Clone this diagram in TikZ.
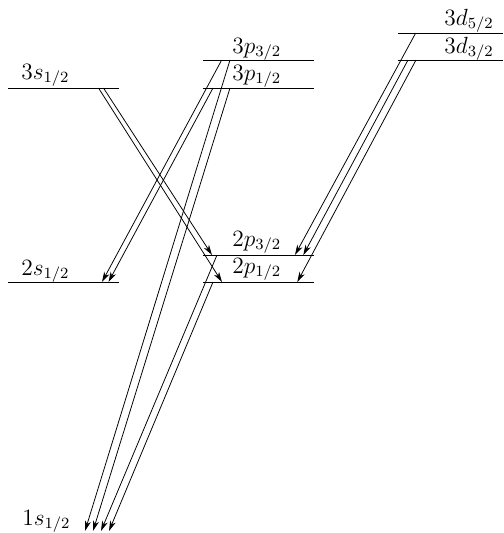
\documentclass[tikz,border=0pt]{standalone}
\usetikzlibrary{arrows.meta}
\begin{document}
\begin{tikzpicture}[x=0.5126pt,y=-0.5126pt,
  levelline/.style={line width=0.5pt},
  trans/.style={line width=0.4pt,-{Stealth[length=5.2pt,width=3pt,inset=1.5pt]}},
  lab/.style={anchor=base west,inner sep=0pt,font=\large}]
\useasboundingbox (0,0) rectangle (503,533);
% level end points
\coordinate (s3L) at (8,88);   \coordinate (s3R) at (119,88);
\coordinate (pa3L) at (203,60); \coordinate (pa3R) at (314,60);
\coordinate (pb3L) at (203,88); \coordinate (pb3R) at (314,88);
\coordinate (da3L) at (398,33); \coordinate (da3R) at (503,33);
\coordinate (db3L) at (398,60); \coordinate (db3R) at (503,60);
\coordinate (s2L) at (8,282);  \coordinate (s2R) at (119,282);
\coordinate (pa2L) at (203,255); \coordinate (pa2R) at (314,255);
\coordinate (pb2L) at (203,282); \coordinate (pb2R) at (314,282);
\foreach \a/\b in {s3L/s3R,pa3L/pa3R,pb3L/pb3R,da3L/da3R,db3L/db3R,s2L/s2R,pa2L/pa2R,pb2L/pb2R}
  \draw[levelline] (\a) -- (\b);
% labels
\node[lab] (l3s) at (21,79) {$3s_{1/2}$};
\node[lab] (l3pa) at (232,53) {$3p_{3/2}$};
\node[lab] (l3pb) at (232,80) {$3p_{1/2}$};
\node[lab] (l3da) at (444,25) {$3d_{5/2}$};
\node[lab] (l3db) at (444,53) {$3d_{3/2}$};
\node[lab] (l2s) at (21,275) {$2s_{1/2}$};
\node[lab] (l2pa) at (232,246) {$2p_{3/2}$};
\node[lab] (l2pb) at (232,273) {$2p_{1/2}$};
\node[lab] (l1s) at (22,525) {$1s_{1/2}$};
% transition end points
\coordinate (t1a) at (103.5,88); \coordinate (t1b) at (212,255);
\coordinate (t2a) at (98.5,88);  \coordinate (t2b) at (222,282);
\coordinate (t3a) at (221.7,60); \coordinate (t3b) at (102,282);
\coordinate (t4a) at (213,88);   \coordinate (t4b) at (108.5,282);
\coordinate (t5a) at (230,60);   \coordinate (t5b) at (85,531);
\coordinate (t6a) at (230,88);   \coordinate (t6b) at (93,531);
\coordinate (t7a) at (217,255);  \coordinate (t7b) at (101,531);
\coordinate (t8a) at (213,282);  \coordinate (t8b) at (109,531);
\coordinate (t9a) at (415.7,33); \coordinate (t9b) at (295,255);
\coordinate (t10a) at (408,60);  \coordinate (t10b) at (303.3,255);
\coordinate (t11a) at (416,60);  \coordinate (t11b) at (297.3,282);
\foreach \i in {1,...,11}
  \draw[trans] (t\i a) -- (t\i b);
\end{tikzpicture}
\end{document}
